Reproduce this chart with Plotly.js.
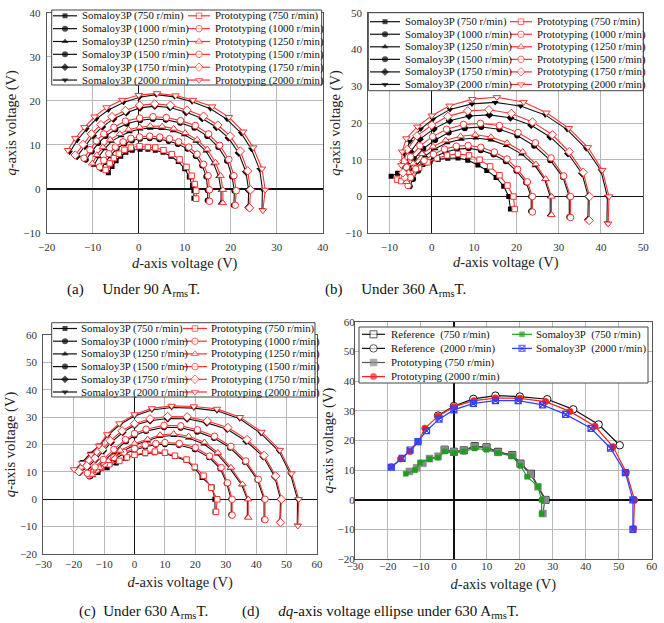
<!DOCTYPE html>
<html><head><meta charset="utf-8">
<script src="https://cdn.plot.ly/plotly-3.0.1.min.js"></script>
<style>html,body{margin:0;padding:0;background:#fff}#chart{width:664px;height:623px}</style>
</head><body><div id="chart"></div>
<script>
// ---------- DATA ----------
const speeds = ['750','1000','1250','1500','1750','2000'];
// (a) 90 ArmsT
const a_s750_x=[-6.6,-5.8,-4.9,-3.9,-2.8,-1.4,0.3,2.0,3.6,5.3,7.0,8.6,10.0,11.0,11.7,12.0,12.0];
const a_s750_y=[3.7,5.1,6.4,7.4,8.3,8.8,9.0,9.0,8.8,8.3,7.4,6.2,4.6,2.7,0.8,-0.4,-2.1];
const a_p750_x=[-7.2,-6.3,-5.4,-4.3,-3.1,-1.7,0.2,2.0,3.6,5.4,7.2,8.9,10.4,11.5,12.2,12.5,12.5];
const a_p750_y=[4.3,5.8,7.0,8.0,8.9,9.4,9.7,9.5,9.4,8.8,7.9,6.7,5.0,3.0,1.1,-0.4,-2.2];
const a_s1000_x=[-8.1,-7.2,-6.1,-4.8,-3.1,-1.5,0.3,2.4,4.5,6.5,8.5,10.6,12.4,13.8,14.7,15.0,15.0];
const a_s1000_y=[4.6,6.1,7.6,9.1,10.3,11.0,11.4,11.5,11.3,10.9,10.2,9.1,7.5,5.3,2.8,-0.3,-2.6];
const a_p1000_x=[-8.5,-7.6,-6.5,-5.1,-3.4,-1.7,0.2,2.4,4.6,6.7,8.7,10.9,12.7,14.1,15.1,15.4,15.4];
const a_p1000_y=[5.0,6.5,8.0,9.5,10.7,11.5,11.8,12.0,11.8,11.4,10.7,9.5,7.9,5.6,3.0,-0.2,-2.8];
const a_s1250_x=[-9.7,-8.7,-7.4,-5.9,-3.8,-2.0,0.3,2.5,5.0,7.5,9.9,12.4,14.6,16.3,17.4,17.9,17.9];
const a_s1250_y=[5.4,7.3,9.1,10.8,12.1,13.0,13.6,13.8,13.7,13.2,12.3,10.8,8.6,5.7,2.8,-0.3,-3.2];
const a_p1250_x=[-10.1,-9.1,-7.8,-6.2,-4.1,-2.2,0.2,2.5,5.1,7.6,10.1,12.7,14.9,16.7,17.8,18.3,18.3];
const a_p1250_y=[5.8,7.7,9.5,11.2,12.5,13.5,14.0,14.3,14.2,13.7,12.7,11.2,9.0,6.0,3.0,-0.2,-3.2];
const a_s1500_x=[-11.5,-10.2,-8.8,-7.2,-5.1,-2.6,0.3,3.1,5.9,9.0,12.1,14.9,17.3,19.2,20.3,20.8,20.7];
const a_s1500_y=[6.6,8.5,10.4,12.0,13.5,14.8,15.6,15.9,15.7,15.0,13.9,12.0,9.5,6.4,2.8,-0.4,-3.7];
const a_p1500_x=[-11.9,-10.6,-9.2,-7.6,-5.4,-2.9,0.2,3.1,6.0,9.1,12.3,15.2,17.6,19.6,20.7,21.2,21.0];
const a_p1500_y=[7.0,8.9,10.9,12.5,14.0,15.4,16.1,16.4,16.2,15.5,14.4,12.5,9.9,6.7,3.0,-0.4,-3.7];
const a_s1750_x=[-13.4,-11.7,-9.9,-7.9,-5.5,-2.7,0.3,3.5,6.8,10.3,13.8,16.9,19.5,21.7,23.3,23.9,23.8];
const a_s1750_y=[7.4,9.7,12.1,14.1,15.9,17.3,18.4,18.8,18.5,17.4,16.0,14.0,11.6,8.2,3.9,-0.3,-4.2];
const a_p1750_x=[-13.8,-12.1,-10.3,-8.2,-5.8,-2.9,0.2,3.5,6.9,10.5,14.1,17.2,19.9,22.1,23.7,24.3,24.1];
const a_p1750_y=[7.7,10.1,12.5,14.6,16.4,17.8,19.0,19.3,19.0,17.9,16.5,14.5,12.0,8.6,4.1,-0.2,-4.3];
const a_s2000_x=[-15.0,-13.4,-11.4,-9.2,-6.6,-3.3,0.2,3.8,7.8,11.6,15.6,19.2,22.3,24.5,26.3,26.9,26.8];
const a_s2000_y=[8.3,11.0,13.5,15.9,17.9,19.6,20.8,21.4,20.9,19.8,18.2,15.8,12.6,9.0,4.4,-0.1,-4.7];
const a_p2000_x=[-15.4,-13.8,-11.8,-9.6,-7.0,-3.6,0.0,4.0,8.0,11.8,16.0,19.6,22.7,24.9,26.8,27.5,27.0];
const a_p2000_y=[8.8,11.5,14.0,16.4,18.5,20.2,21.3,21.7,21.2,20.2,18.7,16.3,13.0,9.4,4.6,-0.2,-4.9];
// (b) 360 ArmsT
const b_s750_x=[-9.6,-8.1,-6.5,-5.0,-3.6,-2.1,-0.4,1.5,3.8,6.2,8.5,10.9,13.0,15.2,17.0,18.2,18.6];
const b_s750_y=[5.5,6.3,6.6,7.0,7.7,8.7,9.5,10.1,10.4,10.5,9.9,8.6,7.1,5.2,2.8,0.0,-3.4];
const b_p750_x=[-8.2,-7.2,-5.8,-4.6,-3.0,-1.0,1.2,3.6,6.2,8.8,11.3,13.8,16.0,17.9,19.3,19.6];
const b_p750_y=[4.6,4.2,4.8,6.2,7.8,9.3,10.4,11.2,11.6,11.2,10.0,8.2,5.8,3.0,0.0,-3.4];
const b_s1000_x=[-5.2,-4.4,-3.2,-1.4,0.8,3.2,6.0,8.7,11.6,14.6,17.5,20.0,22.3,23.5,23.5];
const b_s1000_y=[2.8,4.8,7.0,9.2,10.8,12.1,12.9,13.1,12.6,11.4,9.6,7.0,3.8,0.0,-4.0];
const b_p1000_x=[-5.6,-5.0,-3.8,-1.8,0.4,3.0,5.8,8.6,11.6,14.8,17.8,20.3,22.6,23.8,23.8];
const b_p1000_y=[3.0,5.2,7.5,9.8,11.5,12.9,13.7,13.9,13.4,12.1,10.2,7.4,4.0,0.0,-4.2];
const b_s1250_x=[-5.6,-4.9,-3.6,-1.6,0.8,3.6,7.0,10.4,14.0,17.6,21.2,24.4,26.7,28.0,28.0];
const b_s1250_y=[3.6,6.0,8.5,11.0,13.0,14.6,15.6,15.9,15.4,13.9,11.6,8.4,4.6,0.0,-4.9];
const b_p1250_x=[-6.0,-5.5,-4.4,-2.3,0.3,3.3,6.8,10.3,14.0,17.8,21.5,24.6,26.9,28.3,28.3];
const b_p1250_y=[4.0,6.5,9.0,11.6,13.6,15.3,16.4,16.8,16.2,14.6,12.2,8.8,4.8,0.0,-5.0];
const b_s1500_x=[-6.0,-5.4,-4.2,-2.0,0.8,4.0,7.8,11.7,16.0,20.2,24.2,28.0,31.0,32.5,32.5];
const b_s1500_y=[4.8,7.4,10.2,13.0,15.4,17.4,18.6,18.9,18.3,16.6,13.8,9.9,5.3,0.0,-5.6];
const b_p1500_x=[-6.4,-6.0,-5.0,-2.8,0.2,3.5,7.5,11.5,16.0,20.4,24.5,28.2,31.2,32.8,32.8];
const b_p1500_y=[5.2,8.0,10.8,13.8,16.3,18.3,19.6,19.9,19.3,17.4,14.6,10.5,5.6,0.0,-5.7];
const b_s1750_x=[-6.4,-6.0,-5.0,-2.8,0.5,4.2,8.8,13.6,18.6,23.5,28.0,32.2,35.5,37.0,36.9];
const b_s1750_y=[6.0,9.0,12.2,15.6,18.4,20.6,21.9,22.2,21.4,19.4,16.2,11.7,6.3,0.0,-6.3];
const b_p1750_x=[-6.8,-6.6,-5.8,-3.5,0.0,3.8,8.5,13.5,18.8,23.8,28.5,32.5,35.8,37.3,37.2];
const b_p1750_y=[6.5,9.5,12.8,16.5,19.4,21.8,23.3,23.6,22.6,20.3,16.8,12.2,6.6,0.0,-6.5];
const b_s2000_x=[-6.8,-6.4,-5.2,-2.6,0.3,4.3,9.5,15.0,21.0,26.8,32.0,36.5,40.0,41.5,41.4];
const b_s2000_y=[8.0,11.5,15.0,18.4,21.0,23.7,25.2,25.6,24.6,22.2,18.2,13.0,7.0,0.0,-7.2];
const b_p2000_x=[-7.2,-7.0,-6.0,-3.4,0.0,4.2,9.6,15.4,21.7,27.1,32.4,36.9,40.3,41.9,41.7];
const b_p2000_y=[8.5,12.2,15.8,19.0,22.0,24.7,26.5,27.0,25.7,22.8,18.6,13.4,7.2,0.0,-7.4];
// (c) 630 ArmsT
const c_s750_x=[-14.5,-12.0,-9.0,-6.0,-3.0,0.0,3.5,6.5,10.0,13.3,17.0,19.8,22.2,25.5,26.4,26.5];
const c_s750_y=[8.5,9.8,11.5,13.2,15.0,16.0,16.6,17.0,16.7,15.6,14.2,11.4,7.9,4.5,0.0,-4.6];
const c_p750_x=[-13.5,-11.0,-8.3,-5.0,-2.5,0.0,3.5,6.7,10.0,13.3,17.1,19.8,22.7,25.2,27.2,26.8];
const c_p750_y=[10.2,11.5,12.8,14.0,15.3,16.2,17.0,17.4,17.0,15.9,14.5,11.8,8.6,4.2,0.0,-4.6];
const c_s1000_x=[-14.8,-12.2,-9.5,-6.5,-3.3,0.0,3.5,7.0,10.0,14.6,19.8,24.5,28.2,30.3,31.8,31.8];
const c_s1000_y=[8.3,10.3,12.5,14.8,16.7,18.0,19.2,19.9,20.1,19.8,18.3,15.3,11.2,5.8,0.0,-5.7];
const c_p1000_x=[-15.0,-12.5,-9.8,-6.8,-3.5,0.0,3.5,7.0,10.0,14.7,20.0,24.7,28.5,30.6,32.1,32.1];
const c_p1000_y=[8.8,10.8,13.0,15.3,17.2,18.5,19.8,20.4,20.7,20.4,18.9,15.8,11.6,6.0,0.0,-5.8];
const c_s1250_x=[-13.8,-11.2,-8.3,-4.5,0.0,4.3,8.4,12.9,17.7,22.8,27.2,31.4,35.2,37.1,37.1];
const c_s1250_y=[8.6,11.0,13.5,17.2,19.8,21.3,22.9,23.3,22.4,20.2,16.5,11.2,5.3,0.0,-6.6];
const c_p1250_x=[-14.0,-11.5,-8.6,-4.7,0.0,4.3,8.4,12.9,17.8,23.0,27.4,31.7,35.5,37.4,37.4];
const c_p1250_y=[9.0,11.5,14.0,17.8,20.4,21.9,23.5,23.9,23.0,20.8,17.0,11.6,5.5,0.0,-6.7];
const c_s1500_x=[-15.2,-12.7,-10.0,-6.5,-2.8,0.0,3.8,9.7,15.2,20.6,26.1,31.4,36.3,40.4,42.6,42.6];
const c_s1500_y=[9.1,11.3,14.0,17.6,21.2,23.3,24.9,26.3,26.1,24.7,22.4,18.8,13.6,7.1,0.0,-7.4];
const c_p1500_x=[-15.5,-13.0,-10.3,-6.8,-3.0,0.0,3.8,9.7,15.2,20.7,26.3,31.7,36.6,40.7,42.9,42.9];
const c_p1500_y=[9.5,11.8,14.5,18.2,21.8,24.0,25.6,27.0,26.8,25.4,23.0,19.3,14.0,7.3,0.0,-7.5];
const c_s1750_x=[-18.0,-15.4,-12.7,-10.3,-7.7,-3.9,0.0,5.1,10.9,17.3,23.8,30.5,36.7,42.3,46.1,48.0,47.8];
const c_s1750_y=[9.8,11.8,14.6,17.7,20.8,24.4,27.0,28.7,29.5,29.4,27.9,25.6,21.2,15.6,8.2,0.0,-8.4];
const c_p1750_x=[-18.3,-15.7,-13.0,-10.6,-8.0,-4.1,0.0,5.1,10.9,17.3,23.9,30.7,37.0,42.6,46.4,48.3,48.0];
const c_p1750_y=[10.1,12.2,15.0,18.2,21.4,25.0,27.6,29.4,30.2,30.1,28.6,26.2,21.8,16.0,8.5,0.0,-8.5];
const c_s2000_x=[-19.5,-17.0,-14.5,-11.4,-8.7,-4.8,0.0,5.7,12.2,19.5,27.1,34.6,41.6,47.5,51.3,53.6,53.5];
const c_s2000_y=[10.6,13.8,16.8,19.8,23.4,27.3,30.4,32.6,33.5,33.3,32.3,29.4,24.0,17.5,9.1,0.0,-9.5];
const c_p2000_x=[-19.9,-17.2,-14.3,-11.7,-9.0,-5.0,0.0,5.7,12.2,19.5,27.1,34.7,41.8,47.8,51.6,54.0,53.7];
const c_p2000_y=[10.9,13.2,16.3,19.5,23.7,27.7,31.0,33.2,34.1,33.9,33.0,30.0,24.6,18.0,9.4,0.0,-9.7];
// (d) dq ellipse 630 ArmsT
const d_r750_x=[-2.8,0.0,3.0,6.3,9.9,13.4,17.7,20.2,23.4,27.8];
const d_r750_y=[16.9,16.2,16.7,18.1,17.7,16.2,15.1,12.2,8.8,0.0];
const d_r2000_x=[-4.8,0.0,5.9,12.6,20.0,28.3,36.2,43.9,50.3];
const d_r2000_y=[28.4,31.6,34.0,35.1,34.8,33.9,30.5,25.4,18.4];
const d_p750_x=[-13.5,-11.3,-9.4,-7.4,-4.8,-2.8,0.0,3.0,6.3,9.9,13.4,17.7,20.2,23.3,25.5,27.6,27.0];
const d_p750_y=[9.6,10.8,12.3,13.9,14.7,16.9,16.2,16.7,18.0,17.6,16.0,15.0,12.0,8.6,4.4,0.0,-4.6];
const d_p2000_x=[-19.0,-16.2,-13.3,-10.8,-8.8,-4.8,0.0,6.1,12.6,20.0,27.8,35.2,42.8,48.3,52.3,54.8,54.5];
const d_p2000_y=[11.2,13.8,16.3,19.6,24.1,28.2,31.4,33.4,34.3,34.2,33.1,29.8,24.8,17.9,9.2,0.0,-9.6];
const d_s750_x=[-14.6,-11.8,-10.3,-7.4,-4.8,-2.8,0.0,3.0,6.3,9.9,13.4,17.7,20.2,22.2,25.5,26.6,26.6];
const d_s750_y=[8.8,10.0,12.6,13.7,14.2,16.3,15.8,16.3,17.3,16.9,15.8,14.7,11.5,7.8,4.5,0.0,-4.7];
const d_s2000_x=[-19.0,-15.7,-13.3,-10.9,-8.3,-4.5,0.0,5.9,12.6,19.5,26.9,33.9,41.6,47.5,52.0,54.3,54.3];
const d_s2000_y=[11.0,14.0,16.8,19.6,23.3,27.2,30.3,32.5,33.4,33.4,32.0,28.8,24.1,17.4,9.2,0.0,-9.9];

const captions=['(a)\u00A0\u00A0\u00A0\u00A0\u00A0Under 90 A<sub>rms</sub>T.','(b)\u00A0\u00A0\u00A0\u00A0\u00A0Under 360 A<sub>rms</sub>T.','(c)\u00A0\u00A0Under 630 A<sub>rms</sub>T.','(d)\u00A0\u00A0\u00A0\u00A0\u00A0<i>dq</i>-axis voltage ellipse under 630 A<sub>rms</sub>T.'];

// ---------- LAYOUT / STYLE ----------
const W=664,H=623;
const FONT='Liberation Serif, Times New Roman, serif';
const symbols=['square','circle','triangle-up','circle','diamond','triangle-down'];
const RED='#ff3030';
const boxes={ // pixel boxes [left,right,top,bottom]
  a:[46.7,322.7,12.7,233.0], b:[368.3,643.3,12.7,233.3],
  c:[43.3,317.0,335.0,554.0], d:[355.0,651.7,321.7,559.3]};
const ranges={a:[[-20,40],[-10,40]], b:[[-15,50],[-10,50]], c:[[-30,60],[-20,60]], d:[[-30,60],[-20,60]]};
const axisIds={a:['x','y',''],b:['x2','y2','2'],c:['x3','y3','3'],d:['x4','y4','4']};
// tick / title spacing per panel: [x ticklen, x labelstandoff, x title standoff, y ticklen, y labelstandoff, y title standoff]
const spacing={a:[4,0,5,3,0,3],b:[3,0,5,3,0,0],c:[0,0,7,3,0,0],d:[0,-4,8,0,-3,0]};

const traces=[];
const annotations=[];
const shapes=[];
const all={a_s750_x,a_s750_y,a_p750_x,a_p750_y,a_s1000_x,a_s1000_y,a_p1000_x,a_p1000_y,a_s1250_x,a_s1250_y,a_p1250_x,a_p1250_y,a_s1500_x,a_s1500_y,a_p1500_x,a_p1500_y,a_s1750_x,a_s1750_y,a_p1750_x,a_p1750_y,a_s2000_x,a_s2000_y,a_p2000_x,a_p2000_y,
b_s750_x,b_s750_y,b_p750_x,b_p750_y,b_s1000_x,b_s1000_y,b_p1000_x,b_p1000_y,b_s1250_x,b_s1250_y,b_p1250_x,b_p1250_y,b_s1500_x,b_s1500_y,b_p1500_x,b_p1500_y,b_s1750_x,b_s1750_y,b_p1750_x,b_p1750_y,b_s2000_x,b_s2000_y,b_p2000_x,b_p2000_y,
c_s750_x,c_s750_y,c_p750_x,c_p750_y,c_s1000_x,c_s1000_y,c_p1000_x,c_p1000_y,c_s1250_x,c_s1250_y,c_p1250_x,c_p1250_y,c_s1500_x,c_s1500_y,c_p1500_x,c_p1500_y,c_s1750_x,c_s1750_y,c_p1750_x,c_p1750_y,c_s2000_x,c_s2000_y,c_p2000_x,c_p2000_y};

function msize(sym){return sym==='square'?5.5:6.5;}
['a','b','c'].forEach(p=>{
  const [xa,ya]=axisIds[p];
  speeds.forEach((s,i)=>{
    const sym=symbols[i];
    traces.push({type:'scatter',mode:'lines+markers',xaxis:xa,yaxis:ya,
      x:all[p+'_s'+s+'_x'],y:all[p+'_s'+s+'_y'],showlegend:false,hoverinfo:'skip',
      line:{color:'#111',width:1.1},marker:{symbol:sym,size:msize(sym)-0.5,color:'#000'}});
  });
  speeds.forEach((s,i)=>{
    const sym=symbols[i];
    traces.push({type:'scatter',mode:'lines+markers',xaxis:xa,yaxis:ya,
      x:all[p+'_p'+s+'_x'],y:all[p+'_p'+s+'_y'],showlegend:false,hoverinfo:'skip',
      line:{color:RED,width:1.1},marker:{symbol:sym,size:msize(sym),color:'#fff',line:{color:RED,width:1}}});
  });
});
// (d)
const dStyles=[
 {x:d_r750_x,y:d_r750_y,lc:'#111',sym:'square',ms:7,mc:'#fff',mlc:'#111',mlw:1,label:'Reference\u00A0\u00A0(750 r/min)'},
 {x:d_r2000_x,y:d_r2000_y,lc:'#111',sym:'circle',ms:7.5,mc:'#fff',mlc:'#111',mlw:1,label:'Reference\u00A0\u00A0(2000 r/min)'},
 {x:d_p750_x,y:d_p750_y,lc:'#555',sym:'square',ms:7,mc:'#8a8a8a',mlc:'#8a8a8a',mlw:0.5,label:'Prototyping (750 r/min)'},
 {x:d_p2000_x,y:d_p2000_y,lc:'#ff2020',sym:'circle',ms:6.5,mc:'#ff2020',mlc:'#ff2020',mlw:0.5,label:'Prototyping (2000 r/min)'},
 {x:d_s750_x,y:d_s750_y,lc:'#1e9e1e',sym:'square',ms:5,mc:'#1e9e1e',mlc:'#1e9e1e',mlw:0.5,label:'Somaloy3P\u00A0\u00A0(750 r/min)'},
 {x:d_s2000_x,y:d_s2000_y,lc:'#3040ff',sym:'square-x-open',ms:6,mc:'#3040ff',mlc:'#3040ff',mlw:1.2,label:'Somaloy3P\u00A0\u00A0(2000 r/min)'}];
dStyles.forEach(st=>{
  traces.push({type:'scatter',mode:'lines+markers',xaxis:'x4',yaxis:'y4',x:st.x,y:st.y,showlegend:false,hoverinfo:'skip',
    line:{color:st.lc,width:1.2},marker:{symbol:st.sym,size:st.ms,color:st.mc,line:{color:st.mlc,width:st.mlw}}});
});

// ---------- manual legends (pixel overlay axes x5/y5) ----------
const legCfg={
 a:{box:[51.7,321.7,10,85],y0:15.8,dy:12.85,cols:[{l0:53,l1:77,t:80},{l0:188,l1:210,t:213}]},
 b:{box:[368.3,643.3,12.7,90.7],y0:21.7,dy:12.55,cols:[{l0:370,l1:400,t:403},{l0:510,l1:532,t:535}]},
 c:{box:[51.7,315,322.7,397],y0:328.5,dy:12.7,cols:[{l0:53,l1:77,t:79},{l0:183,l1:207,t:209}]},
 d:{box:[359,648,327,383],y0:334.3,dy:14.1,cols:[{l0:362,l1:385,t:389},{l0:512,l1:532,t:534}]}};
function legendEntry(cfg,col,row,st,label){
  const c=cfg.cols[col]; const y=cfg.y0+row*cfg.dy;
  traces.push({type:'scatter',mode:'lines+markers',xaxis:'x5',yaxis:'y5',x:[c.l0,(c.l0+c.l1)/2,c.l1],y:[y,y,y],
    showlegend:false,hoverinfo:'skip',cliponaxis:false,line:{color:st.lc,width:1.2},
    marker:{symbol:st.sym,size:[0,st.ms,0],color:st.mc,line:{color:st.mlc,width:[0,st.mlw,0]}}});
  annotations.push({xref:'paper',yref:'paper',x:c.t/W,y:1-y/H,xanchor:'left',yanchor:'middle',showarrow:false,
    text:label,font:{family:FONT,size:10.8,color:'#111'}});
}
['a','b','c','d'].forEach(p=>{
  const b=legCfg[p].box;
  shapes.push({type:'rect',xref:'x5',yref:'y5',x0:b[0],x1:b[1],y0:b[2],y1:b[3],fillcolor:'#fff',line:{color:'#444',width:1},layer:'below'});
});
['a','b','c'].forEach(p=>{
  speeds.forEach((s,i)=>{
    const sym=symbols[i];
    legendEntry(legCfg[p],0,i,{lc:'#111',sym:sym,ms:msize(sym)-0.5,mc:'#000',mlc:'#000',mlw:0},'Somaloy3P ('+s+' r/min)');
    legendEntry(legCfg[p],1,i,{lc:RED,sym:sym,ms:msize(sym),mc:'#fff',mlc:RED,mlw:1},'Prototyping ('+s+' r/min)');
  });
});
[[0,0],[0,1],[0,2],[0,3],[1,0],[1,1]].forEach((cr,k)=>legendEntry(legCfg.d,cr[0],cr[1],dStyles[k],dStyles[k].label));

// ---------- axes ----------
const layout={width:W,height:H,margin:{l:0,r:0,t:0,b:0},paper_bgcolor:'#fff',plot_bgcolor:'rgba(0,0,0,0)',showlegend:false,
  font:{family:FONT,color:'#222'},annotations:annotations,shapes:shapes};
['a','b','c','d'].forEach(p=>{
  const bx=boxes[p]; const suf=axisIds[p][2]; const sp=spacing[p];
  const common={showgrid:true,gridcolor:'#b8b8b8',gridwidth:1,zeroline:true,zerolinecolor:'#111',zerolinewidth:1.4,
    showline:true,mirror:true,linecolor:'#555',linewidth:1,dtick:10,tick0:0,automargin:false,fixedrange:true,
    tickfont:{family:FONT,size:11,color:'#333'},tickcolor:'rgba(0,0,0,0)'};
  layout['xaxis'+suf]=Object.assign({},common,{domain:[bx[0]/W,bx[1]/W],range:ranges[p][0],anchor:'y'+suf,
    ticks:sp[0]>0?'outside':'',ticklen:sp[0]||undefined,ticklabelstandoff:sp[1],
    title:{text:'<i>d</i>-axis voltage (V)',font:{family:FONT,size:14.5,color:'#222'},standoff:sp[2]}});
  layout['yaxis'+suf]=Object.assign({},common,{domain:[1-bx[3]/H,1-bx[2]/H],range:ranges[p][1],anchor:'x'+suf,
    ticks:sp[3]>0?'outside':'',ticklen:sp[3]||undefined,ticklabelstandoff:sp[4],
    title:{text:'<i>q</i>-axis voltage (V)',font:{family:FONT,size:14.5,color:'#222'},standoff:sp[5]}});
});
layout.xaxis5={domain:[0,1],range:[0,W],visible:false,fixedrange:true,anchor:'y5'};
layout.yaxis5={domain:[0,1],range:[H,0],visible:false,fixedrange:true,anchor:'x5'};

const capPos=[[65,290],[323,290],[77,612],[240,612]];
captions.forEach((t,i)=>annotations.push({xref:'paper',yref:'paper',x:capPos[i][0]/W,y:1-capPos[i][1]/H,xanchor:'left',yanchor:'middle',
  showarrow:false,text:t,font:{family:FONT,size:15,color:'#111'}}));

Plotly.newPlot('chart',traces,layout,{staticPlot:true,displayModeBar:false});
</script></body></html>
